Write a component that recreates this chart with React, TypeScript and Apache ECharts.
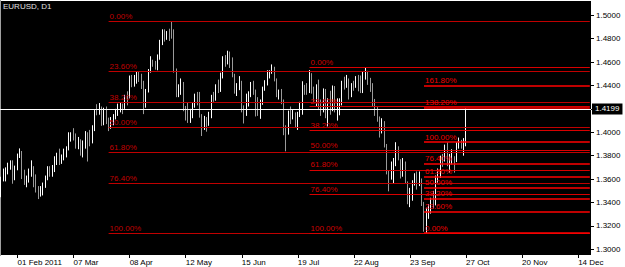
import React, { useEffect, useRef } from 'react';
import * as echarts from 'echarts';

const FONT = "'Liberation Sans Narrow', 'Liberation Sans', Arial, sans-serif";

// Daily EURUSD bars: [open, close, low, high]
const jan2011 = [
  [1.3465, 1.3610, 1.3445, 1.3620], [1.3612, 1.3625, 1.3580, 1.3690], [1.3625, 1.3680, 1.3580, 1.3700],
  [1.3680, 1.3705, 1.3640, 1.3740], [1.3705, 1.3752, 1.3680, 1.3760], [1.3752, 1.3605, 1.3560, 1.3760],
  [1.3605, 1.3690, 1.3590, 1.3715],
];
const feb2011 = [
  [1.3690, 1.3806, 1.3675, 1.3818], [1.3806, 1.3830, 1.3780, 1.3862], [1.3830, 1.3645, 1.3600, 1.3840],
  [1.3645, 1.3590, 1.3550, 1.3680], [1.3590, 1.3604, 1.3530, 1.3630], [1.3604, 1.3655, 1.3570, 1.3690],
  [1.3655, 1.3696, 1.3620, 1.3760], [1.3696, 1.3583, 1.3530, 1.3710], [1.3583, 1.3498, 1.3485, 1.3640],
  [1.3498, 1.3484, 1.3429, 1.3540], [1.3484, 1.3500, 1.3450, 1.3540], [1.3500, 1.3542, 1.3460, 1.3570],
  [1.3542, 1.3600, 1.3525, 1.3630], [1.3600, 1.3697, 1.3590, 1.3710], [1.3697, 1.3660, 1.3620, 1.3710],
  [1.3660, 1.3675, 1.3620, 1.3720], [1.3675, 1.3762, 1.3660, 1.3795], [1.3762, 1.3800, 1.3720, 1.3825],
  [1.3800, 1.3752, 1.3720, 1.3860], [1.3752, 1.3799, 1.3730, 1.3810],
];
const mar2011 = [
  [1.3799, 1.3805, 1.3760, 1.3860], [1.3805, 1.3860, 1.3785, 1.3880], [1.3860, 1.3986, 1.3845, 1.4000],
  [1.3986, 1.3989, 1.3920, 1.4000], [1.3989, 1.3973, 1.3930, 1.4035], [1.3973, 1.3890, 1.3860, 1.3990],
  [1.3890, 1.3930, 1.3855, 1.3960], [1.3930, 1.3820, 1.3800, 1.3940], [1.3820, 1.3906, 1.3785, 1.3930],
  [1.3906, 1.3995, 1.3860, 1.4010], [1.3995, 1.3962, 1.3750, 1.4000], [1.3962, 1.3917, 1.3880, 1.4020],
  [1.3917, 1.4021, 1.3905, 1.4060], [1.4021, 1.4180, 1.4010, 1.4190], [1.4180, 1.4177, 1.4145, 1.4240],
  [1.4177, 1.4213, 1.4150, 1.4250], [1.4213, 1.4083, 1.4055, 1.4220], [1.4083, 1.4203, 1.4060, 1.4210],
  [1.4203, 1.4098, 1.4070, 1.4220], [1.4098, 1.4089, 1.4010, 1.4125], [1.4089, 1.4114, 1.4030, 1.4130],
  [1.4114, 1.4134, 1.4060, 1.4155], [1.4134, 1.4163, 1.4110, 1.4200],
];
const apr2011 = [
  [1.4163, 1.4226, 1.4140, 1.4245], [1.4226, 1.4229, 1.4170, 1.4250], [1.4229, 1.4219, 1.4155, 1.4245],
  [1.4219, 1.4312, 1.4200, 1.4320], [1.4312, 1.4299, 1.4230, 1.4350], [1.4299, 1.4477, 1.4290, 1.4485],
  [1.4477, 1.4418, 1.4385, 1.4490], [1.4418, 1.4465, 1.4390, 1.4490], [1.4465, 1.4497, 1.4415, 1.4520],
  [1.4497, 1.4493, 1.4430, 1.4515], [1.4493, 1.4424, 1.4370, 1.4500], [1.4424, 1.4227, 1.4155, 1.4440],
  [1.4227, 1.4349, 1.4210, 1.4370], [1.4349, 1.4522, 1.4340, 1.4540], [1.4522, 1.4607, 1.4510, 1.4650],
  [1.4607, 1.4578, 1.4560, 1.4620], [1.4578, 1.4576, 1.4535, 1.4610], [1.4576, 1.4640, 1.4530, 1.4665],
  [1.4640, 1.4774, 1.4620, 1.4790], [1.4774, 1.4815, 1.4745, 1.4880], [1.4815, 1.4808, 1.4775, 1.4880],
];
const may2011 = [
  [1.4808, 1.4836, 1.4790, 1.4865], [1.4836, 1.4830, 1.4780, 1.4885], [1.4830, 1.4826, 1.4800, 1.4950],
  [1.4826, 1.4535, 1.4510, 1.4880], [1.4535, 1.4316, 1.4300, 1.4545], [1.4316, 1.4358, 1.4300, 1.4410],
  [1.4358, 1.4401, 1.4320, 1.4460], [1.4401, 1.4192, 1.4180, 1.4430], [1.4192, 1.4160, 1.4100, 1.4225],
  [1.4160, 1.4117, 1.4080, 1.4250], [1.4117, 1.4149, 1.4080, 1.4200], [1.4149, 1.4233, 1.4120, 1.4250],
  [1.4233, 1.4316, 1.4210, 1.4330], [1.4316, 1.4306, 1.4230, 1.4345], [1.4306, 1.4152, 1.4125, 1.4345],
  [1.4152, 1.4043, 1.3968, 1.4155], [1.4043, 1.4108, 1.4020, 1.4140], [1.4108, 1.4067, 1.4005, 1.4130],
  [1.4067, 1.4125, 1.4055, 1.4175], [1.4125, 1.4316, 1.4120, 1.4320], [1.4316, 1.4294, 1.4260, 1.4345],
  [1.4294, 1.4392, 1.4270, 1.4410],
];
const jun2011 = [
  [1.4392, 1.4371, 1.4335, 1.4450], [1.4371, 1.4499, 1.4345, 1.4510], [1.4499, 1.4640, 1.4460, 1.4650],
  [1.4640, 1.4595, 1.4560, 1.4660], [1.4595, 1.4650, 1.4580, 1.4697], [1.4650, 1.4582, 1.4550, 1.4690],
  [1.4582, 1.4490, 1.4470, 1.4640], [1.4490, 1.4347, 1.4330, 1.4500], [1.4347, 1.4395, 1.4310, 1.4420],
  [1.4395, 1.4402, 1.4360, 1.4480], [1.4402, 1.4186, 1.4170, 1.4440], [1.4186, 1.4152, 1.4075, 1.4230],
  [1.4152, 1.4311, 1.4140, 1.4330], [1.4311, 1.4316, 1.4220, 1.4350], [1.4316, 1.4380, 1.4300, 1.4430],
  [1.4380, 1.4359, 1.4320, 1.4440], [1.4359, 1.4220, 1.4135, 1.4365], [1.4220, 1.4194, 1.4140, 1.4300],
  [1.4194, 1.4265, 1.4115, 1.4280], [1.4265, 1.4370, 1.4235, 1.4390], [1.4370, 1.4431, 1.4355, 1.4445],
  [1.4431, 1.4496, 1.4400, 1.4530],
];
const jul2011 = [
  [1.4496, 1.4515, 1.4460, 1.4530], [1.4515, 1.4540, 1.4500, 1.4580], [1.4540, 1.4454, 1.4435, 1.4560],
  [1.4454, 1.4328, 1.4300, 1.4460], [1.4328, 1.4351, 1.4280, 1.4365], [1.4351, 1.4265, 1.4240, 1.4370],
  [1.4265, 1.3989, 1.3975, 1.4280], [1.3989, 1.3986, 1.3837, 1.4060], [1.3986, 1.4151, 1.3980, 1.4185],
  [1.4151, 1.4148, 1.4070, 1.4220], [1.4148, 1.4150, 1.4110, 1.4190], [1.4150, 1.4065, 1.4040, 1.4170],
  [1.4065, 1.4152, 1.4020, 1.4175], [1.4152, 1.4228, 1.4130, 1.4260], [1.4228, 1.4380, 1.4150, 1.4436],
  [1.4380, 1.4363, 1.4320, 1.4405], [1.4363, 1.4349, 1.4320, 1.4420], [1.4349, 1.4501, 1.4335, 1.4532],
  [1.4501, 1.4354, 1.4330, 1.4505], [1.4354, 1.4350, 1.4250, 1.4390], [1.4350, 1.4392, 1.4220, 1.4410],
];
const aug2011 = [
  [1.4392, 1.4245, 1.4190, 1.4450], [1.4245, 1.4189, 1.4140, 1.4280], [1.4189, 1.4354, 1.4170, 1.4375],
  [1.4354, 1.4143, 1.4120, 1.4370], [1.4143, 1.4264, 1.4050, 1.4290], [1.4264, 1.4195, 1.4150, 1.4355],
  [1.4195, 1.4354, 1.4180, 1.4400], [1.4354, 1.4185, 1.4170, 1.4395], [1.4185, 1.4238, 1.4100, 1.4290],
  [1.4238, 1.4240, 1.4145, 1.4290], [1.4240, 1.4432, 1.4230, 1.4440], [1.4432, 1.4392, 1.4365, 1.4475],
  [1.4392, 1.4437, 1.4380, 1.4490], [1.4437, 1.4320, 1.4280, 1.4460], [1.4320, 1.4394, 1.4300, 1.4420],
  [1.4394, 1.4389, 1.4355, 1.4440], [1.4389, 1.4445, 1.4380, 1.4480], [1.4445, 1.4413, 1.4350, 1.4490],
  [1.4413, 1.4396, 1.4335, 1.4485], [1.4396, 1.4501, 1.4335, 1.4515], [1.4501, 1.4507, 1.4450, 1.4556],
  [1.4507, 1.4450, 1.4405, 1.4525], [1.4450, 1.4375, 1.4345, 1.4465],
];
const sep2011 = [
  [1.4375, 1.4237, 1.4220, 1.4420], [1.4237, 1.4200, 1.4140, 1.4285], [1.4200, 1.4094, 1.4090, 1.4215],
  [1.4094, 1.4043, 1.3955, 1.4135], [1.4043, 1.4078, 1.3990, 1.4120], [1.4078, 1.3892, 1.3870, 1.4095],
  [1.3892, 1.3650, 1.3640, 1.3900], [1.3650, 1.3648, 1.3495, 1.3675], [1.3648, 1.3688, 1.3595, 1.3750],
  [1.3688, 1.3759, 1.3560, 1.3780], [1.3759, 1.3882, 1.3710, 1.3915], [1.3882, 1.3792, 1.3760, 1.3880],
  [1.3792, 1.3682, 1.3605, 1.3770], [1.3682, 1.3708, 1.3620, 1.3780], [1.3708, 1.3577, 1.3560, 1.3750],
  [1.3577, 1.3460, 1.3385, 1.3580], [1.3460, 1.3497, 1.3360, 1.3525], [1.3497, 1.3584, 1.3415, 1.3590],
  [1.3584, 1.3596, 1.3545, 1.3650], [1.3596, 1.3539, 1.3510, 1.3665], [1.3539, 1.3596, 1.3540, 1.3665],
  [1.3596, 1.3387, 1.3370, 1.3605],
];
const oct2011 = [
  [1.3387, 1.3170, 1.3150, 1.3405], [1.3170, 1.3343, 1.3137, 1.3355], [1.3343, 1.3345, 1.3260, 1.3385],
  [1.3345, 1.3420, 1.3305, 1.3440], [1.3420, 1.3379, 1.3350, 1.3500], [1.3379, 1.3618, 1.3375, 1.3630],
  [1.3618, 1.3628, 1.3570, 1.3690], [1.3628, 1.3784, 1.3610, 1.3800], [1.3784, 1.3763, 1.3705, 1.3815],
  [1.3763, 1.3876, 1.3750, 1.3895], [1.3876, 1.3724, 1.3710, 1.3915], [1.3724, 1.3747, 1.3655, 1.3815],
  [1.3747, 1.3765, 1.3725, 1.3855], [1.3765, 1.3750, 1.3655, 1.3795], [1.3750, 1.3895, 1.3745, 1.3915],
  [1.3895, 1.3911, 1.3860, 1.3955], [1.3911, 1.3901, 1.3860, 1.3935], [1.3901, 1.3907, 1.3800, 1.3950],
  [1.3907, 1.4199, 1.3880, 1.4205],
];

const firstBarDate = '2011-01-21';
const futureDays = 53;

const xTickDates = ['2011-02-01', '2011-03-07', '2011-04-08', '2011-05-12', '2011-06-15', '2011-07-19',
  '2011-08-22', '2011-09-23', '2011-10-27', '2011-11-20', '2011-12-14'];
const xTickLabels = ['01 Feb 2011', '07 Mar', '08 Apr', '12 May', '15 Jun', '19 Jul',
  '22 Aug', '23 Sep', '27 Oct', '20 Nov', '14 Dec'];

const yTicks = [1.30, 1.32, 1.34, 1.36, 1.38, 1.40, 1.42, 1.44, 1.46, 1.48, 1.50];
const yMin = 1.2951;
const yMax = 1.5122;
const bidPrice = 1.4199;

const retraceLevels = [0, 0.236, 0.382, 0.5, 0.618, 0.764, 1];
const expansionLevels = [0, 0.236, 0.382, 0.5, 0.618, 0.764, 1, 1.382, 1.618];

// Fibonacci objects: start date, 0% price, 100% price
const fibA = { start: '2011-03-28', zero: 1.4951, hundred: 1.3137 };
const fibB = { start: '2011-07-26', zero: 1.4556, hundred: 1.3137 };
const fibC = { start: '2011-10-03', zero: 1.3137, hundred: 1.3915 };

function isoDate(d: Date) {
  return d.toISOString().slice(0, 10);
}

function buildCategories(nBars: number) {
  const out: string[] = [];
  const d = new Date(firstBarDate + 'T00:00:00Z');
  while (out.length < nBars) {
    const wd = d.getUTCDay();
    if (wd !== 0 && wd !== 6) out.push(isoDate(d));
    d.setUTCDate(d.getUTCDate() + 1);
  }
  for (let i = 0; i < futureDays; i++) {
    out.push(isoDate(d));
    d.setUTCDate(d.getUTCDate() + 1);
  }
  return out;
}

export default function App() {
  const ref = useRef<HTMLDivElement>(null);

  useEffect(() => {
    if (!ref.current) return;
    const chart = echarts.init(ref.current, undefined, { renderer: 'svg' });

    const bars = [...jan2011, ...feb2011, ...mar2011, ...apr2011, ...may2011, ...jun2011,
      ...jul2011, ...aug2011, ...sep2011, ...oct2011];
    const categories = buildCategories(bars.length);
    const lastCat = categories[categories.length - 1];
    const tickSet = new Set(xTickDates);
    const labelMap: Record<string, string> = {};
    xTickDates.forEach((d, i) => { labelMap[d] = xTickLabels[i]; });

    const fibLines = (fib: any, levels: number[], lineColor: string, textColor: string, width: number) =>
      levels.map((r) => {
        const price = fib.zero + r * (fib.hundred - fib.zero);
        return [
          {
            coord: [fib.start, price],
            name: (r * 100).toFixed(2) + '%',
            lineStyle: { color: lineColor, width, type: 'solid' },
            label: {
              show: true,
              position: 'insideStartTop',
              formatter: '{b}',
              color: textColor,
              fontSize: 8,
              fontFamily: FONT,
              distance: 1,
              padding: 0,
            },
          },
          { coord: [lastCat, price] },
        ];
      });

    const markData: any[] = [
      ...fibLines(fibA, retraceLevels, '#c00000', '#c00000', 1),
      ...fibLines(fibB, retraceLevels, '#d80000', '#d00000', 1),
      ...fibLines(fibC, expansionLevels, '#ff0000', '#ee0000', 1.5),
      {
        yAxis: bidPrice,
        lineStyle: { color: '#ffffff', width: 1, type: 'solid' },
        label: {
          show: true,
          position: 'end',
          formatter: bidPrice.toFixed(4),
          color: '#ffffff',
          backgroundColor: '#000000',
          fontSize: 8,
          fontFamily: FONT,
          padding: [2, 3, 1, 3],
          distance: 1,
        },
      },
    ];

    chart.setOption({
      animation: false,
      backgroundColor: '#ffffff',
      title: {
        text: 'EURUSD, D1',
        left: 3,
        top: 2,
        padding: 0,
        textStyle: { color: '#e0e0e0', fontSize: 8, fontWeight: 'normal', fontFamily: FONT },
      },
      grid: {
        left: 0,
        top: 1,
        width: 591,
        height: 254,
        show: true,
        backgroundColor: '#000000',
        borderWidth: 0,
      },
      xAxis: {
        type: 'category',
        data: categories,
        boundaryGap: true,
        axisLine: { show: false },
        axisTick: {
          show: true,
          alignWithLabel: true,
          interval: (_i: number, v: string) => tickSet.has(v),
          length: 3,
          lineStyle: { color: '#000000', width: 1 },
        },
        axisLabel: {
          interval: (_i: number, v: string) => tickSet.has(v),
          formatter: (v: string) => labelMap[v] || '',
          align: 'left',
          margin: 3,
          color: '#000000',
          fontSize: 8,
          fontFamily: FONT,
        },
        splitLine: { show: false },
      },
      yAxis: {
        type: 'value',
        position: 'right',
        min: yMin,
        max: yMax,
        scale: true,
        axisLine: { show: false },
        axisTick: {
          show: true,
          customValues: yTicks,
          length: 3,
          lineStyle: { color: '#000000', width: 1 },
        },
        axisLabel: {
          customValues: yTicks,
          formatter: (v: number) => v.toFixed(4),
          margin: 5,
          color: '#000000',
          fontSize: 8,
          fontFamily: FONT,
        },
        splitLine: { show: false },
      },
      series: [
        {
          type: 'candlestick',
          data: bars,
          barWidth: 1.2,
          itemStyle: {
            color: '#ffffff',
            color0: '#9a9a9a',
            borderColor: '#ffffff',
            borderColor0: '#9a9a9a',
            borderWidth: 1,
          },
          markLine: {
            silent: true,
            symbol: ['none', 'none'],
            animation: false,
            precision: 4,
            data: markData,
          },
        },
      ],
      graphic: [
        { type: 'rect', shape: { x: 0, y: 0, width: 1, height: 256 }, style: { fill: '#a0a0a0' }, silent: true },
      ],
    });

    return () => chart.dispose();
  }, []);

  return (
    <div
      ref={ref}
      style={{ position: 'fixed', left: 0, top: 0, width: 625, height: 267, background: '#ffffff' }}
    />
  );
}
